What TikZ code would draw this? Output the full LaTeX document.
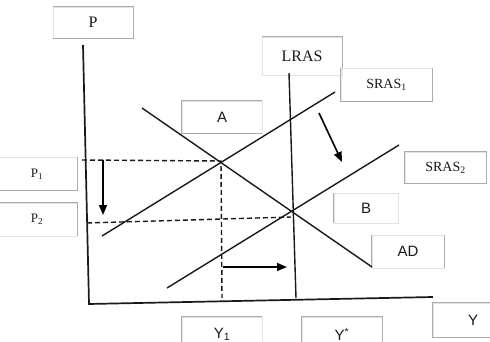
\documentclass[tikz,border=0pt]{standalone}
\usepackage{fontspec}
\setmainfont{Liberation Serif}
\setsansfont{Liberation Sans}
\usetikzlibrary{arrows.meta}

\begin{document}
\begin{tikzpicture}[x=1pt, y=-1pt,
  lbl/.style={draw=gray!22, line width=0.8pt, inner sep=0pt, minimum width=80pt, minimum height=32pt, text=black!90},
  rim/.style={draw=gray!65, line width=0.9pt},
  big/.style={font=\fontsize{16}{18}\selectfont},
  serif/.style={font=\fontsize{14}{16}\selectfont},
  small/.style={font=\fontsize{13}{15}\selectfont},
  sans/.style={font=\sffamily\fontsize{15}{17}\selectfont},
  axisline/.style={line width=1.7pt, black!90},
  asline/.style={line width=1.4pt, black!90},
  guide/.style={line width=1.4pt, black!90, dash pattern=on 5pt off 3pt},
  shiftarrow/.style={line width=1.6pt, black, -{Triangle[length=10pt, width=8pt]}}]

\useasboundingbox (0,0) rectangle (490,342);

% label boxes
\node[lbl, big, minimum height=31pt] (pbox) at (93,22.5) {P};
\node[lbl, big, minimum height=38pt] (lrasbox) at (302,56) {LRAS};
\node[lbl, serif, minimum width=91pt, minimum height=33pt] (sras1box) at (386.5,84.5) {SRAS\textsubscript{1}};
\node[lbl, serif, minimum width=81pt, minimum height=31pt] (sras2box) at (445.5,167.5) {SRAS\textsubscript{2}};
\node[lbl, sans] (abox) at (222,117) {A};
\node[lbl, sans, minimum width=64pt, minimum height=30pt] (bbox) at (366,208) {B};
\node[lbl, sans, minimum width=72pt, minimum height=33pt] (adbox) at (408,251.5) {AD};
\node[lbl, small, minimum height=33pt] (p1box) at (37,174) {P\textsubscript{1}};
\node[lbl, small, minimum height=33pt] (p2box) at (37,219.5) {P\textsubscript{2}};
\node[lbl, sans, minimum height=34pt] (y1box) at (222,334) {Y\textsubscript{1}};
\node[lbl, sans, minimum height=34pt] (ystarbox) at (342,334) {Y\textsuperscript{*}};
\node[lbl, sans, minimum height=34pt] (ybox) at (473,320) {Y};

% the edges that show
\draw[rim] (pbox.north west) -- (pbox.north east) -- (pbox.south east) -- (pbox.south west);
\draw[rim] (lrasbox.north west) -- (lrasbox.north east) -- ([yshift=7pt]lrasbox.south east);
\draw[rim] (sras1box.north west) -- (sras1box.south west) -- (sras1box.south east) -- (sras1box.north east);
\draw[rim] (sras2box.north west) rectangle (sras2box.south east);
\draw[rim] (abox.north east) -- (abox.north west) -- (abox.south west) -- (abox.south east);
\draw[rim] (bbox.north west) -- (bbox.south west);
\draw[rim] (adbox.north west) -- (adbox.south west);
\draw[rim] (adbox.north east) -- (adbox.south east);
\draw[rim] (p1box.north east) -- (p1box.south east) -- (p1box.south west);
\draw[rim] (p2box.north west) -- (p2box.north east) -- (p2box.south east);
\draw[rim] (y1box.south west) -- (y1box.north west) -- (y1box.north east);
\draw[rim] (ystarbox.south west) -- (ystarbox.north west) -- (ystarbox.north east) -- (ystarbox.south east);
\draw[rim] (ybox.north east) -- (ybox.north west) -- (ybox.south west) -- (ybox.south east);

% axes
\coordinate (O) at (89,304);
\draw[axisline] (83,45) -- (O) -- (433,297);

% curves
\draw[asline] (289,73) -- (296,298);  % LRAS
\draw[asline] (102,236) -- (335,92);  % SRAS1
\draw[asline] (167,288) -- (399,145); % SRAS2
\draw[asline] (142,108) -- (372,267); % AD

% guides
\coordinate (E1) at (221,161);
\draw[guide] (82,160) -- (E1) -- (222,298);
\draw[guide] (87,223) -- (291,217);

% shifts
\draw[shiftarrow] (319,113) -- (342,162);
\draw[shiftarrow] (103,160) -- (103,215);
\draw[shiftarrow] (223,267) -- (287,267);

\end{tikzpicture}
\end{document}
